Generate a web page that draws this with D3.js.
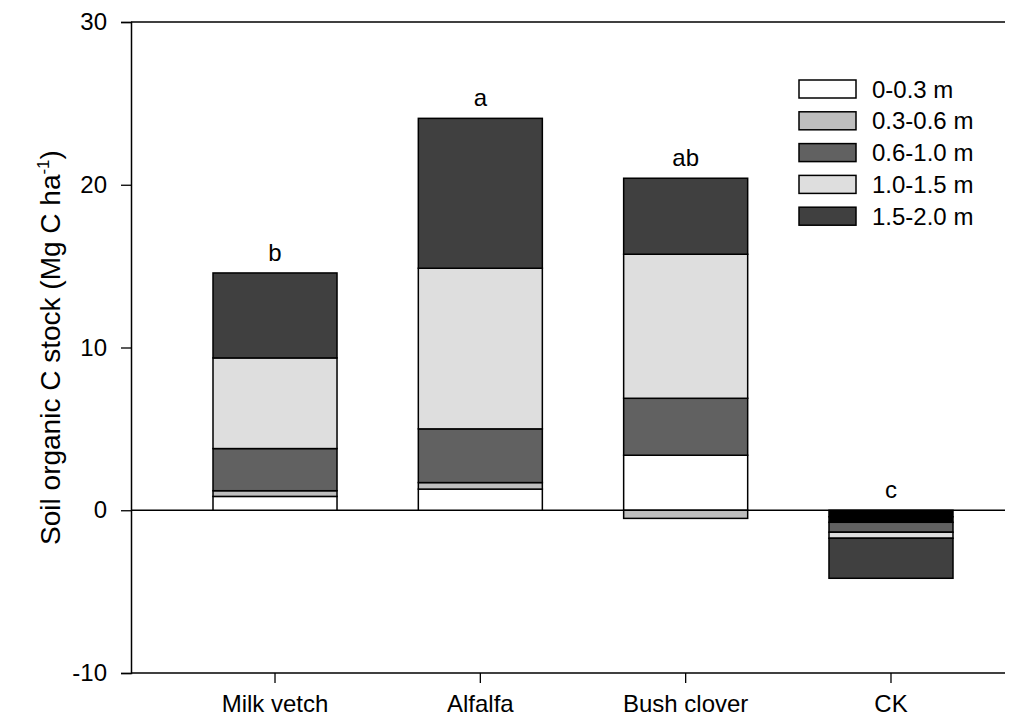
<!DOCTYPE html>
<html>
<head>
<meta charset="utf-8">
<script src="https://cdn.jsdelivr.net/npm/d3@7"></script>
<style>
body { margin: 0; background: #fff; }
text { font-family: "Liberation Sans", Arial, sans-serif; fill: #000; }
</style>
</head>
<body>
<script>
// categories and depth layers
var categories = ["Milk vetch", "Alfalfa", "Bush clover", "CK"]
var layers = ["0-0.3 m", "0.3-0.6 m", "0.6-1.0 m", "1.0-1.5 m", "1.5-2.0 m"]
var letters = ["b", "a", "ab", "c"]

// SOC stock change per layer (Mg C ha-1), one array per category, layer order as above
var milkVetch = [0.85, 0.35, 2.59, 5.57, 5.22]
var alfalfa = [1.3, 0.4, 3.3, 9.87, 9.21]
var bushClover = [3.38, -0.5, 3.5, 8.85, 4.67]
var ck = [-0.4, -0.34, -0.61, -0.37, -2.46]

var yTicks = [-10, 0, 10, 20, 30]

var values = [milkVetch, alfalfa, bushClover, ck]
var fills = ["#ffffff", "#bebebe", "#616161", "#dedede", "#404040"]

var W = 1025, H = 726
var mLeft = 131, mRight = 1005, mTop = 22, mBottom = 673
var font = '"Liberation Sans", Arial, sans-serif'

var svg = d3.select("body").append("svg")
    .attr("width", W)
    .attr("height", H)

var y = d3.scaleLinear()
    .domain([-10, 30])
    .range([mBottom, mTop])

var x = d3.scaleBand()
    .domain(categories)
    .range([213, 953])
    .paddingInner(0.396)
    .paddingOuter(0)

// stack positive and negative pieces separately
var segs = []
values.forEach(function(vals, ci) {
  var pos = 0, neg = 0
  vals.forEach(function(v, li) {
    var y0, y1
    if (v >= 0) { y0 = pos; y1 = pos + v; pos = y1 }
    else { y0 = neg; y1 = neg + v; neg = y1 }
    segs.push({cat: categories[ci], layer: li, y0: y0, y1: y1})
  })
})

// zero line
svg.append("line")
    .attr("x1", mLeft).attr("x2", mRight)
    .attr("y1", y(0)).attr("y2", y(0))
    .attr("stroke", "#000").attr("stroke-width", 1.3)

svg.selectAll("rect.seg")
  .data(segs)
  .enter().append("rect")
    .attr("class", "seg")
    .attr("x", d => x(d.cat))
    .attr("width", x.bandwidth())
    .attr("y", d => y(Math.max(d.y0, d.y1)))
    .attr("height", d => Math.abs(y(d.y0) - y(d.y1)))
    // CK top two layers show as solid black in the original
    .attr("fill", d => (d.cat == "CK" && d.layer < 2) ? "#000" : fills[d.layer])
    .attr("stroke", "#000")
    .attr("stroke-width", 1.5)

// significance letters
svg.selectAll("text.letter")
  .data(categories)
  .enter().append("text")
    .attr("class", "letter")
    .attr("x", d => x(d) + x.bandwidth() / 2)
    .attr("y", (d, i) => {
      var tot = d3.sum(values[i].filter(v => v > 0))
      return y(tot) - 12
    })
    .attr("text-anchor", "middle")
    .attr("font-size", 24)
    .text((d, i) => letters[i])

// y axis
var yAxis = svg.append("g")
    .attr("transform", "translate(" + mLeft + ",0)")
    .call(d3.axisLeft(y).tickValues(yTicks).tickFormat(d => String(d)).tickSize(10).tickPadding(14))
yAxis.select(".domain").attr("stroke-width", 1.5)
yAxis.selectAll(".tick line").attr("stroke-width", 1.3)
yAxis.selectAll("text").attr("font-size", 24).style("font-family", font)

// top and bottom frame lines
svg.append("line")
    .attr("x1", mLeft).attr("x2", mRight)
    .attr("y1", mTop).attr("y2", mTop)
    .attr("stroke", "#000").attr("stroke-width", 1.5)

var xAxis = svg.append("g")
    .attr("transform", "translate(0," + mBottom + ")")
    .call(d3.axisBottom(x).tickSize(10).tickPadding(12))
xAxis.select(".domain").remove()
xAxis.selectAll(".tick line").attr("stroke-width", 1.3)
xAxis.selectAll("text").attr("font-size", 24).style("font-family", font)
svg.append("line")
    .attr("x1", mLeft).attr("x2", mRight)
    .attr("y1", mBottom).attr("y2", mBottom)
    .attr("stroke", "#000").attr("stroke-width", 1.5)

// y title
var title = svg.append("text")
    .attr("transform", "translate(60," + ((mTop + mBottom) / 2) + ") rotate(-90)")
    .attr("text-anchor", "middle")
    .attr("font-size", 28)
title.append("tspan").text("Soil organic C stock (Mg C ha")
title.append("tspan").attr("dy", -11).attr("font-size", 17).text("-1")
title.append("tspan").attr("dy", 11).text(")")

// legend
var leg = svg.append("g").attr("transform", "translate(799,80)")
var rows = leg.selectAll("g")
  .data(layers)
  .enter().append("g")
    .attr("transform", (d, i) => "translate(0," + i * 31.8 + ")")
rows.append("rect")
    .attr("width", 57).attr("height", 18)
    .attr("fill", (d, i) => fills[i])
    .attr("stroke", "#000").attr("stroke-width", 1.5)
rows.append("text")
    .attr("x", 73).attr("y", 9)
    .attr("dy", "0.36em")
    .attr("font-size", 24)
    .text(d => d)
</script>
</body>
</html>
